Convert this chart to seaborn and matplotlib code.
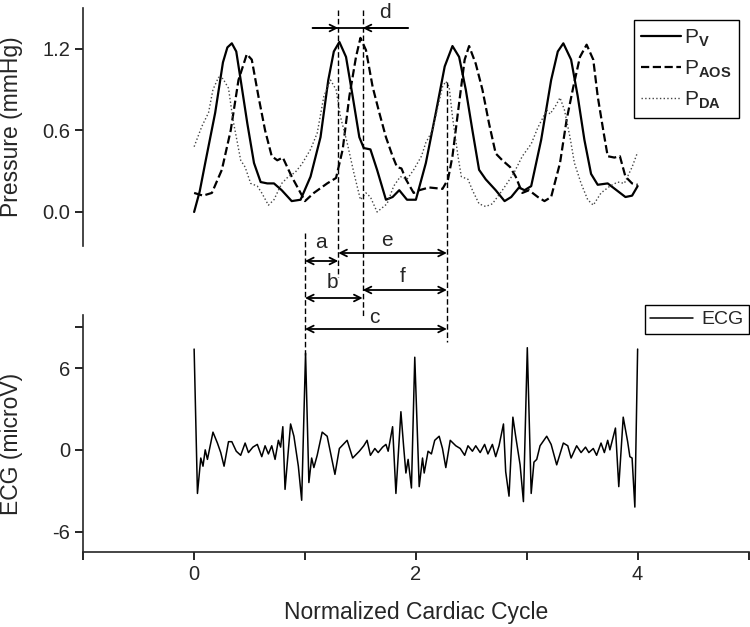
import seaborn as sns
from matplotlib import pyplot as plt
from matplotlib.lines import Line2D
from matplotlib.ticker import FormatStrFormatter
from matplotlib.transforms import blended_transform_factory

# pressure curves (normalized cardiac cycle, mmHg)
t_pv = [0.00, 0.05, 0.10, 0.19, 0.26, 0.30, 0.34, 0.38, 0.42, 0.48,
        0.54, 0.60, 0.66, 0.72, 0.79, 0.88, 0.96, 1.05, 1.14, 1.21,
        1.26, 1.31, 1.37, 1.43, 1.49, 1.53, 1.59, 1.65, 1.73, 1.79,
        1.85, 1.92, 2.00, 2.09, 2.18, 2.26, 2.33, 2.39, 2.45, 2.51,
        2.57, 2.63, 2.72, 2.80, 2.86, 2.93, 2.98, 3.04, 3.13, 3.22,
        3.28, 3.33, 3.40, 3.46, 3.52, 3.58, 3.64, 3.73, 3.81, 3.89,
        3.95, 4.00]
p_v = [0.00, 0.15, 0.36, 0.73, 1.10, 1.21, 1.24, 1.18, 0.97, 0.65,
       0.36, 0.22, 0.21, 0.21, 0.16, 0.08, 0.09, 0.26, 0.55, 0.97,
       1.18, 1.25, 1.14, 0.85, 0.55, 0.47, 0.46, 0.31, 0.09, 0.11,
       0.16, 0.09, 0.09, 0.36, 0.73, 1.07, 1.22, 1.14, 0.90, 0.60,
       0.31, 0.24, 0.16, 0.08, 0.11, 0.18, 0.16, 0.19, 0.53, 0.97,
       1.18, 1.24, 1.12, 0.85, 0.53, 0.28, 0.20, 0.21, 0.16, 0.11,
       0.12, 0.19]

t_aos = [0.00, 0.08, 0.16, 0.25, 0.33, 0.40, 0.475, 0.52, 0.58, 0.64,
         0.70, 0.75, 0.80, 0.88, 0.96, 1.00, 1.08, 1.20, 1.28, 1.34,
         1.40, 1.46, 1.50, 1.55, 1.61, 1.67, 1.73, 1.79, 1.83, 1.87,
         1.91, 1.98, 2.03, 2.12, 2.24, 2.29, 2.33, 2.39, 2.44, 2.48,
         2.54, 2.60, 2.66, 2.72, 2.78, 2.85, 2.90, 2.96, 3.02, 3.10,
         3.16, 3.22, 3.30, 3.36, 3.42, 3.48, 3.54, 3.60, 3.64, 3.69,
         3.73, 3.79, 3.84, 3.89, 3.95, 4.00]
p_aos = [0.14, 0.12, 0.14, 0.31, 0.60, 0.97, 1.16, 1.12, 0.85, 0.60,
         0.41, 0.38, 0.40, 0.26, 0.14, 0.08, 0.14, 0.21, 0.25, 0.46,
         0.85, 1.14, 1.28, 1.19, 0.92, 0.73, 0.55, 0.41, 0.33, 0.32,
         0.24, 0.14, 0.16, 0.18, 0.17, 0.24, 0.41, 0.80, 1.12, 1.22,
         1.09, 0.90, 0.65, 0.43, 0.38, 0.33, 0.26, 0.14, 0.16, 0.11,
         0.08, 0.11, 0.36, 0.68, 0.92, 1.14, 1.23, 1.12, 0.85, 0.60,
         0.41, 0.40, 0.41, 0.26, 0.21, 0.20]

t_da = [0.00, 0.07, 0.13, 0.17, 0.22, 0.26, 0.31, 0.35, 0.39, 0.42,
        0.46, 0.51, 0.57, 0.61, 0.67, 0.72, 0.79, 0.85, 0.91, 0.97,
        1.05, 1.11, 1.17, 1.23, 1.28, 1.32, 1.38, 1.44, 1.50, 1.55,
        1.59, 1.65, 1.74, 1.80, 1.86, 1.92, 1.98, 2.05, 2.09, 2.15,
        2.20, 2.24, 2.27, 2.30, 2.33, 2.38, 2.41, 2.47, 2.51, 2.57,
        2.63, 2.69, 2.78, 2.88, 2.96, 3.04, 3.10, 3.15, 3.18, 3.21,
        3.26, 3.30, 3.34, 3.39, 3.43, 3.49, 3.55, 3.60, 3.67, 3.75,
        3.82, 3.88, 3.95, 4.00]
p_da = [0.48, 0.63, 0.73, 0.90, 0.99, 0.98, 0.91, 0.68, 0.51, 0.38,
        0.33, 0.21, 0.19, 0.14, 0.05, 0.09, 0.21, 0.26, 0.29, 0.35,
        0.46, 0.58, 0.85, 0.97, 0.90, 0.70, 0.51, 0.29, 0.09, 0.14,
        0.11, 0.00, 0.06, 0.19, 0.26, 0.24, 0.31, 0.41, 0.51, 0.60,
        0.78, 0.92, 0.96, 0.92, 0.70, 0.41, 0.26, 0.24, 0.16, 0.06,
        0.04, 0.06, 0.16, 0.28, 0.41, 0.50, 0.62, 0.70, 0.75, 0.72,
        0.78, 0.84, 0.75, 0.55, 0.36, 0.21, 0.09, 0.05, 0.14, 0.19,
        0.22, 0.21, 0.33, 0.44]

# ECG trace (microV)
t_ecg = [0.00, 0.03, 0.06, 0.08, 0.10, 0.12, 0.17, 0.21, 0.24, 0.27,
         0.31, 0.34, 0.38, 0.42, 0.46, 0.49, 0.53, 0.57, 0.61, 0.64,
         0.67, 0.70, 0.73, 0.76, 0.78, 0.80, 0.82, 0.87, 0.90, 0.94,
         0.97, 1.005, 1.035, 1.06, 1.08, 1.11, 1.155, 1.20, 1.23, 1.27,
         1.31, 1.38, 1.43, 1.49, 1.53, 1.56, 1.59, 1.63, 1.66, 1.70,
         1.73, 1.75, 1.79, 1.82, 1.865, 1.89, 1.91, 1.93, 1.96, 1.99,
         2.03, 2.06, 2.075, 2.11, 2.14, 2.17, 2.21, 2.24, 2.27, 2.31,
         2.36, 2.40, 2.44, 2.47, 2.51, 2.54, 2.58, 2.62, 2.65, 2.69,
         2.72, 2.75, 2.79, 2.81, 2.84, 2.875, 2.90, 2.94, 2.97, 3.005,
         3.04, 3.065, 3.09, 3.12, 3.18, 3.22, 3.27, 3.33, 3.37, 3.40,
         3.45, 3.49, 3.53, 3.56, 3.60, 3.63, 3.67, 3.70, 3.73, 3.75,
         3.80, 3.83, 3.87, 3.91, 3.93, 3.95, 3.975, 4.00]
ecg = [7.4, -3.2, -0.6, -1.2, 0.0, -0.7, 1.3, 0.5, -0.2, -1.2,
       0.6, 0.6, -0.1, -0.4, 0.5, -0.2, 0.2, 0.4, -0.5, 0.3,
       -0.3, 0.3, -0.7, 0.7, 0.2, 1.7, -2.9, 1.9, 1.0, -1.2,
       -3.7, 7.1, -2.4, -0.6, -1.3, -0.4, 1.3, 1.0, -0.2, -1.8,
       0.1, 0.7, -0.6, -0.1, 0.3, 0.7, -0.4, 0.1, -0.2, 0.2,
       0.4, -0.1, 1.7, -3.2, 2.8, 0.2, -1.7, -0.7, -2.8, 6.8,
       -2.7, -0.6, -1.7, -0.1, -0.3, 0.7, 1.0, 0.1, -1.3, 0.7,
       0.3, 0.1, -0.4, 0.3, -0.1, 0.3, -0.2, 0.4, -0.3, 0.4,
       -0.5, 0.3, 1.9, -1.6, -3.4, 2.4, 1.0, -1.1, -3.8, 7.5,
       -3.2, -0.9, -0.7, 0.3, 1.0, 0.4, -1.1, 0.5, 0.3, -0.6,
       0.3, -0.2, 0.2, -0.2, 0.1, -0.4, 0.5, -0.2, 0.7, 0.0,
       1.6, -2.7, 2.4, 0.6, -0.5, -0.6, -4.2, 7.4]

# timing markers (cycle units): ECG R peak, P_V peak, P_AOS peak, next P_DA peak
t_r = 1.0
t_v = 1.30
t_aos_pk = 1.52
t_da_pk = 2.28

sns.set_style('ticks')
plt.rcParams['font.family'] = ['Liberation Sans', 'DejaVu Sans']
plt.rcParams['mathtext.fontset'] = 'custom'
plt.rcParams['mathtext.rm'] = 'Liberation Sans'
plt.rcParams['mathtext.bf'] = 'Liberation Sans:bold'
plt.rcParams['axes.unicode_minus'] = False

fig = plt.figure(figsize=(7.5, 6.27), dpi=100)
fig.patch.set_facecolor('white')
ax_p = fig.add_axes([0.111, 0.6077, 0.887, 0.3796])
ax_e = fig.add_axes([0.111, 0.1196, 0.887, 0.378])
for ax in (ax_p, ax_e):
    ax.patch.set_alpha(0)

sns.lineplot(x=t_pv, y=p_v, ax=ax_p, color='black', lw=1.6,
             sort=False, label=r'P$_\mathbf{V}$')
sns.lineplot(x=t_aos, y=p_aos, ax=ax_p, color='black', lw=1.6, linestyle='--',
             sort=False, label=r'P$_\mathbf{AOS}$')
sns.lineplot(x=t_da, y=p_da, ax=ax_p, color='#444444', lw=1.0, linestyle=':',
             sort=False, label=r'P$_\mathbf{DA}$')
sns.lineplot(x=t_ecg, y=ecg, ax=ax_e, color='black', lw=1.1,
             sort=False, label='ECG')

# top panel: left axis only
ax_p.set_xlim(-1, 5)
ax_p.set_ylim(-0.25, 1.5)
ax_p.set_yticks([0.0, 0.6, 1.2])
ax_p.yaxis.set_major_formatter(FormatStrFormatter('%.1f'))
ax_p.set_xticks([])
for s in ['top', 'right', 'bottom']:
    ax_p.spines[s].set_visible(False)
ax_p.set_ylabel('Pressure (mmHg)', fontsize=16.5)
ax_p.yaxis.set_label_coords(-0.09, 0.5)

ax_e.set_xlim(-1, 5)
ax_e.set_ylim(-7.5, 9.9)
ax_e.set_yticks([-6, 0, 6])
ax_e.set_yticks([9], minor=True)
ax_e.set_xticks([0, 2, 4])
ax_e.set_xticks([-1, 1, 3, 5], minor=True)
for s in ['top', 'right']:
    ax_e.spines[s].set_visible(False)
ax_e.set_ylabel('ECG (microV)', fontsize=16.5)
ax_e.yaxis.set_label_coords(-0.09, 0.456)
ax_e.set_xlabel('Normalized Cardiac Cycle', fontsize=16.5, labelpad=12)

for ax in (ax_p, ax_e):
    for s in ax.spines.values():
        s.set_linewidth(1.2)
    ax.tick_params(which='both', direction='out', length=6, width=1.2,
                   labelsize=14.5, color='black')

ax_p.legend(loc='upper right', bbox_to_anchor=(0.985, 0.968),
            bbox_transform=fig.transFigure, fontsize=15, frameon=True,
            fancybox=False, edgecolor='black', framealpha=1,
            handlelength=1.9, handletextpad=0.15, labelspacing=0.45,
            borderpad=0.35, borderaxespad=0)
ax_e.legend(loc='upper right', bbox_to_anchor=(0.9987, 0.5136),
            bbox_transform=fig.transFigure, fontsize=14, frameon=True,
            fancybox=False, edgecolor='black', framealpha=1,
            handlelength=2.2, handletextpad=0.4, borderpad=0.3,
            borderaxespad=0)
for leg in [ax_p.get_legend(), ax_e.get_legend()]:
    leg.get_frame().set_linewidth(1.0)

# interval markers drawn across both panels
tr = blended_transform_factory(ax_p.transData, fig.transFigure)


def fy(py):
    return 1 - py / 627


for tx, y0, y1 in [(t_r, 233, 355), (t_v, 10, 277),
                   (t_aos_pk, 10, 318), (t_da_pk, 82, 342)]:
    fig.add_artist(Line2D([tx, tx], [fy(y0), fy(y1)], transform=tr,
                          color='black', lw=1.0, linestyle=(0, (4, 2))))

arrow = dict(arrowstyle='<->', color='black', lw=1.3,
             shrinkA=0, shrinkB=0, mutation_scale=12)
for x0, x1, py in [(t_r, t_v, 261), (t_v, t_da_pk, 253),
                   (t_r, t_aos_pk, 298), (t_aos_pk, t_da_pk, 290),
                   (t_r, t_da_pk, 329)]:
    ax_p.annotate('', xy=(x1, fy(py)), xytext=(x0, fy(py)),
                  xycoords=tr, textcoords=tr, annotation_clip=False,
                  arrowprops=arrow)

# d: two inward arrows between the pressure peaks
one = dict(arrowstyle='->', color='black', lw=1.3,
           shrinkA=0, shrinkB=0, mutation_scale=12)
fig.add_artist(Line2D([1.068, 1.928], [fy(28), fy(28)], transform=tr,
                      color='black', lw=1.3))
ax_p.annotate('', xy=(t_v, fy(28)), xytext=(1.068, fy(28)), xycoords=tr,
              textcoords=tr, annotation_clip=False, arrowprops=one)
ax_p.annotate('', xy=(t_aos_pk, fy(28)), xytext=(1.928, fy(28)), xycoords=tr,
              textcoords=tr, annotation_clip=False, arrowprops=one)

for txt, px, py in [('d', 385, 12), ('a', 321, 242), ('e', 387, 241),
                    ('b', 332, 283), ('f', 403, 276), ('c', 374, 317)]:
    fig.text(px / 750, fy(py), txt, ha='center', va='center', fontsize=15)

fig.savefig('out.png', dpi=100, facecolor='white')
